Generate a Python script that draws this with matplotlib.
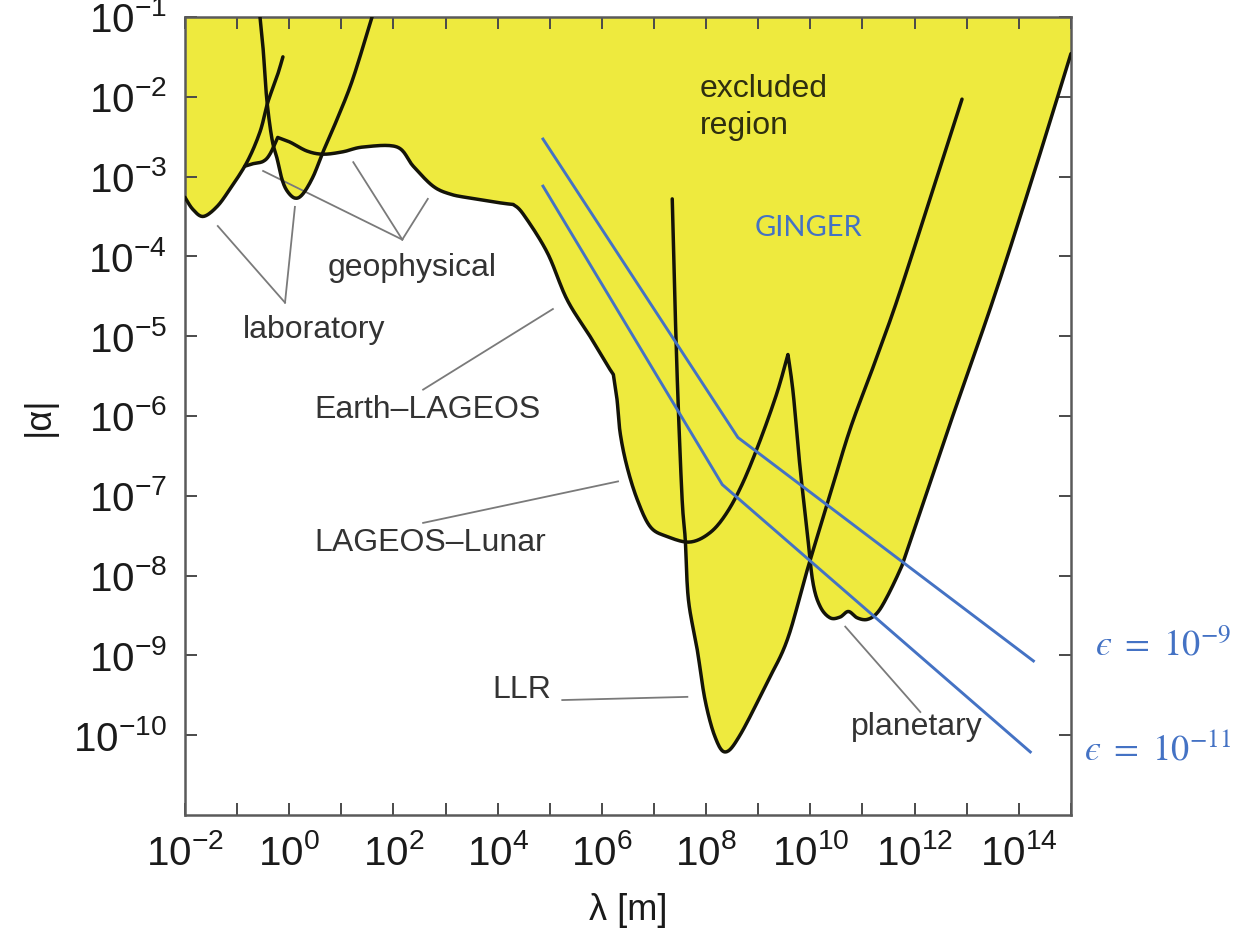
import numpy as np
import matplotlib
matplotlib.use("Agg")
import matplotlib.pyplot as plt

plt.rcParams['font.family'] = ['Liberation Sans', 'DejaVu Sans']
plt.rcParams['mathtext.fontset'] = 'custom'
plt.rcParams['mathtext.rm'] = 'Liberation Sans'
plt.rcParams['mathtext.it'] = 'Liberation Sans:italic'
plt.rcParams['mathtext.bf'] = 'Liberation Sans:bold'

# log10 of lambda [m] and of |alpha| along each constraint curve
lab1_loglam = [-2.0, -1.85, -1.65, -1.39, -1.14, -0.81, -0.56, -0.41, -0.23, -0.12]
lab1_logalpha = [-3.26, -3.41, -3.50, -3.38, -3.16, -2.82, -2.44, -2.07, -1.74, -1.50]

lab2_loglam = [-0.56, -0.50, -0.43, -0.33, -0.23, -0.14, -0.04, 0.11, 0.26, 0.46, 0.65, 0.92, 1.22, 1.59]
lab2_logalpha = [-1.0, -1.40, -2.03, -2.53, -2.78, -3.03, -3.18, -3.27, -3.22, -3.00, -2.69, -2.28, -1.78, -1.0]

geo_loglam = [-0.85, -0.70, -0.50, -0.37, -0.22, 0.02, 0.34, 0.65, 1.03, 1.42, 2.07, 2.38, 2.76, 3.09, 3.47, 4.05, 4.30]
geo_logalpha = [-2.87, -2.84, -2.81, -2.72, -2.51, -2.57, -2.68, -2.72, -2.69, -2.63, -2.63, -2.87, -3.12, -3.22, -3.27, -3.33, -3.35]

earth_lageos_loglam = [4.49, 4.95, 5.33, 5.77, 6.12, 6.22]
earth_lageos_logalpha = [-3.47, -3.95, -4.54, -5.00, -5.38, -5.48]

lageos_lunar_loglam = [6.29, 6.35, 6.48, 6.68, 6.93, 7.25, 7.69, 8.08, 8.40, 8.71, 9.04, 9.36, 9.57]
lageos_lunar_logalpha = [-5.79, -6.21, -6.63, -7.05, -7.39, -7.51, -7.58, -7.46, -7.21, -6.83, -6.30, -5.71, -5.23]

planetary_loglam = [9.67, 9.80, 9.94, 10.05, 10.19, 10.38, 10.57, 10.73, 10.90, 11.09, 11.28, 11.47,
                    11.72, 11.86, 12.68, 13.51, 14.26, 15.0]
planetary_logalpha = [-5.71, -6.63, -7.46, -8.09, -8.39, -8.53, -8.52, -8.45, -8.53, -8.55, -8.47, -8.27,
                      -7.93, -7.68, -6.10, -4.54, -3.02, -1.46]

llr_loglam = [7.35, 7.40, 7.46, 7.54, 7.60, 7.66, 7.83, 7.98, 8.17, 8.37, 8.65, 9.17, 9.56, 9.94,
              10.35, 10.76, 11.22, 11.67, 12.29, 12.91]
llr_logalpha = [-3.28, -4.54, -5.79, -7.05, -7.55, -8.30, -8.93, -9.56, -10.02, -10.21, -10.00, -9.34,
                -8.80, -7.93, -7.05, -6.17, -5.36, -4.54, -3.29, -2.03]

# GINGER sensitivity lines for two values of epsilon
ginger_hi_loglam = [4.87, 8.61, 14.28]
ginger_hi_logalpha = [-2.53, -6.27, -9.07]
ginger_lo_loglam = [4.87, 8.31, 14.22]
ginger_lo_logalpha = [-3.12, -6.86, -10.21]

x_ticks = list(range(-2, 16))
y_ticks = list(range(-10, 0))

# geophysical -> Earth-LAGEOS -> LAGEOS-Lunar -> planetary is one continuous line
main_loglam = geo_loglam + earth_lageos_loglam + lageos_lunar_loglam + planetary_loglam
main_logalpha = geo_logalpha + earth_lageos_logalpha + lageos_lunar_logalpha + planetary_logalpha
main_corners = [-0.22, 4.30, 6.22, 9.57]


def catmull_rom(xs, ys, n=16):
    p = np.column_stack([xs, ys])
    if len(p) < 3:
        return p[:, 0], p[:, 1]
    ext = np.vstack([p[0], p, p[-1]])
    out = []
    t = np.linspace(0, 1, n, endpoint=False)[:, None]
    for i in range(1, len(ext) - 2):
        p0, p1, p2, p3 = ext[i - 1], ext[i], ext[i + 1], ext[i + 2]
        out.append(0.5 * (2 * p1 + (p2 - p0) * t + (2 * p0 - 5 * p1 + 4 * p2 - p3) * t**2
                          + (3 * p1 - p0 - 3 * p2 + p3) * t**3))
    out.append(p[-1][None, :])
    out = np.vstack(out)
    return out[:, 0], out[:, 1]


def smooth(xs, ys, corners=()):
    # smooth piecewise, keeping sharp corners where the curve has a kink
    xs, ys = list(xs), list(ys)
    cut = [0] + [xs.index(c) for c in corners] + [len(xs) - 1]
    sx, sy = [], []
    for a, b in zip(cut[:-1], cut[1:]):
        px, py = catmull_rom(xs[a:b + 1], ys[a:b + 1])
        sx.append(px)
        sy.append(py)
    return np.concatenate(sx), np.concatenate(sy)


curves = [smooth(lab1_loglam, lab1_logalpha),
          smooth(lab2_loglam, lab2_logalpha),
          smooth(main_loglam, main_logalpha, main_corners),
          smooth(llr_loglam, llr_logalpha)]

fig = plt.figure(figsize=(12.53, 9.36), dpi=100)
ax = fig.add_axes([0.1476, 0.1293, 0.7071, 0.8526])
ax.set_xscale('log')
ax.set_yscale('log')
ax.set_xlim(1e-2, 1e15)
ax.set_ylim(1e-11, 1e-1)

# excluded region = everything above the lowest constraint
grid = np.linspace(-2, 15, 5000)
env = np.zeros_like(grid)
for lx, ly in curves:
    order = np.argsort(lx, kind='stable')
    env = np.minimum(env, np.interp(grid, lx[order], ly[order], left=0, right=0))
env = np.minimum(env, -1)
ax.fill_between(10**grid, 10**env, 10**-1.0, color='#EEEA3E', lw=0, zorder=1)

for lx, ly in curves:
    ax.plot(10**lx, 10**ly, color='#141408', lw=2.5,
            solid_joinstyle='round', solid_capstyle='round', zorder=3)

blue = '#4472C4'
ax.plot(10**np.array(ginger_hi_loglam), 10**np.array(ginger_hi_logalpha), color=blue, lw=2.1, zorder=4)
ax.plot(10**np.array(ginger_lo_loglam), 10**np.array(ginger_lo_logalpha), color=blue, lw=2.1, zorder=4)

# leader lines for the curve labels
lead = dict(color='#7a7a7a', lw=1.3, zorder=2)
def leader(p, q):
    ax.plot([10**p[0], 10**q[0]], [10**p[1], 10**q[1]], **lead)

leader((-0.08, -4.58), (-1.37, -3.62))
leader((-0.08, -4.58), (0.11, -3.38))
leader((2.17, -3.79), (-0.50, -2.93))
leader((2.17, -3.79), (1.23, -2.82))
leader((2.17, -3.79), (2.66, -3.28))
leader((2.57, -5.67), (5.06, -4.66))
leader((2.57, -7.34), (6.31, -6.82))
leader((5.24, -9.56), (7.64, -9.52))
leader((10.67, -8.64), (12.11, -9.71))

txt = dict(fontsize=23, color='#333333', ha='center', va='center', zorder=5)
ax.text(10**0.48, 10**-4.92, 'laboratory', **txt)
ax.text(10**2.36, 10**-4.14, 'geophysical', **txt)
ax.text(10**2.66, 10**-5.92, 'Earth\u2013LAGEOS', **txt)
ax.text(10**2.70, 10**-7.59, 'LAGEOS\u2013Lunar', **txt)
ax.text(10**4.47, 10**-9.43, 'LLR', **txt)
ax.text(10**12.05, 10**-9.90, 'planetary', **txt)
ax.text(10**7.88, 10**-2.13, 'excluded\nregion', fontsize=23, color='#2e2e10',
        ha='left', va='center', linespacing=1.3, zorder=5)

ax.text(10**9.96, 10**-3.64, 'GINGER', fontsize=21, color=blue, family='Lato',
        ha='center', va='center', zorder=5)
fig.text(1231 / 1253, 1 - 646 / 936, '$\u03f5\\ =\\ 10^{-9}$', fontsize=26, color=blue,
         math_fontfamily='stix', ha='right', va='center')
fig.text(1231 / 1253, 1 - 750 / 936, '$\u03f5\\ =\\ 10^{-11}$', fontsize=26, color=blue,
         math_fontfamily='stix', ha='right', va='center')

ax.set_xticks([10.0**e for e in x_ticks],
              [r'$\mathregular{10^{%d}}$' % e if e % 2 == 0 else '' for e in x_ticks])
ax.set_yticks([10.0**e for e in y_ticks],
              [r'$\mathregular{10^{%d}}$' % e for e in y_ticks])
ax.minorticks_off()
ax.tick_params(which='major', direction='in', top=True, right=True, length=8.6,
               width=1.4, color='#4a4a4a', labelsize=29, labelcolor='#1a1a1a')
ax.tick_params(axis='x', pad=14)
ax.tick_params(axis='y', pad=13)
for s in ax.spines.values():
    s.set_color('#5a5a5a')
    s.set_linewidth(1.8)

ax.set_xlabel('\u03bb [m]', fontsize=26, color='#1a1a1a')
ax.set_ylabel('|\u03b1|', fontsize=26, color='#1a1a1a')
ax.xaxis.set_label_coords(0.5, -0.098)
ax.yaxis.set_label_coords(-0.145, 0.5)

fig.savefig('out.png', dpi=100, facecolor='white')
